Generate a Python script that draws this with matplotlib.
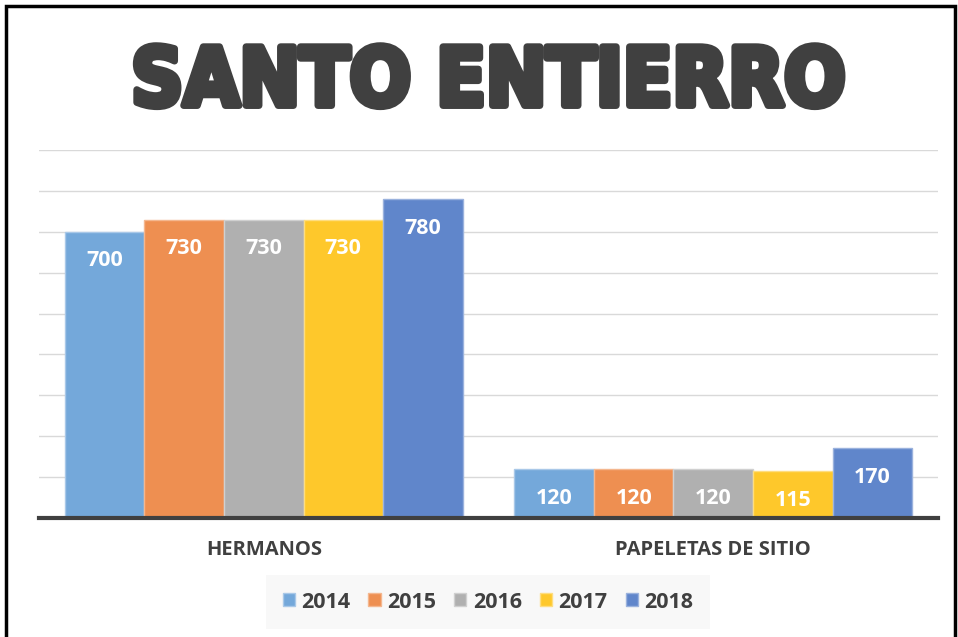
import matplotlib.pyplot as plt
import matplotlib.patheffects as pe
from matplotlib.patches import Rectangle, Patch
import numpy as np

categories = ["HERMANOS", "PAPELETAS DE SITIO"]
years = ["2014", "2015", "2016", "2017", "2018"]
values = {
    "2014": [700, 120],
    "2015": [730, 120],
    "2016": [730, 120],
    "2017": [730, 115],
    "2018": [780, 170],
}
colors = ["#74a8da", "#ee8f51", "#b0b0b0", "#fec82b", "#6086cb"]
edges = ["#a9c8e8", "#f4b78f", "#d0d0d0", "#fedd80", "#9ab2dd"]

TEXT = "#404040"

fig = plt.figure(figsize=(9.58, 6.37), dpi=100)
ax = fig.add_axes([39 / 958, 119 / 637, 899 / 958, 368 / 637])

x = np.arange(len(categories))
width = 0.177
for i, yr in enumerate(years):
    offs = (i - 2) * width
    bars = ax.bar(x + offs, values[yr], width, color=colors[i],
                  edgecolor=edges[i], linewidth=1, zorder=3, label=yr)
    for b, v in zip(bars, values[yr]):
        ax.annotate(str(v), (b.get_x() + b.get_width() / 2, v),
                    xytext=(0, -21), textcoords="offset points",
                    ha="center", va="center", color="white",
                    fontsize=15.5, fontweight="bold", family="Open Sans",
                    zorder=4)

ax.set_xlim(-0.5, 1.5)
ax.set_ylim(0, 900)
ax.set_yticks(np.arange(100, 901, 100))
ax.yaxis.grid(True, color="#d9d9d9", linewidth=1, zorder=0)
ax.tick_params(axis="y", length=0, labelleft=False)
ax.tick_params(axis="x", length=0, pad=16)
ax.set_xticks(x)
ax.set_xticklabels(categories, fontsize=14.5, fontweight="bold",
                   color=TEXT, family="Open Sans")
for s in ["top", "right", "left"]:
    ax.spines[s].set_visible(False)
ax.spines["bottom"].set_color(TEXT)
ax.spines["bottom"].set_linewidth(3)
ax.spines["bottom"].set_zorder(5)

# title
fig.text(488 / 958, 1 - 75 / 637, "SANTO ENTIERRO", ha="center", va="center_baseline",
         fontsize=58, fontweight="heavy", fontstretch="condensed",
         family="DejaVu Sans", color=TEXT,
         path_effects=[pe.withStroke(linewidth=5, foreground=TEXT)])

# legend
handles = [Patch(facecolor=c, edgecolor=e) for c, e in zip(colors, edges)]
leg = fig.legend(handles, years, loc="center", ncol=5,
                 bbox_to_anchor=(488 / 958, 1 - 602 / 637),
                 frameon=True, facecolor="#f7f7f7", edgecolor="none",
                 fancybox=False, handlelength=0.56, handleheight=0.56,
                 handletextpad=0.3, columnspacing=0.85, borderpad=0.75,
                 borderaxespad=0,
                 prop={"family": "Open Sans", "weight": "bold", "size": 15.5})
for t in leg.get_texts():
    t.set_color(TEXT)

# outer frame
fig.patches.append(Rectangle((6 / 958, -0.05), 949 / 958, 1 - 6 / 637 + 0.05,
                             transform=fig.transFigure, fill=False,
                             edgecolor="black", linewidth=2.5))

fig.savefig("out.png", dpi=100)
